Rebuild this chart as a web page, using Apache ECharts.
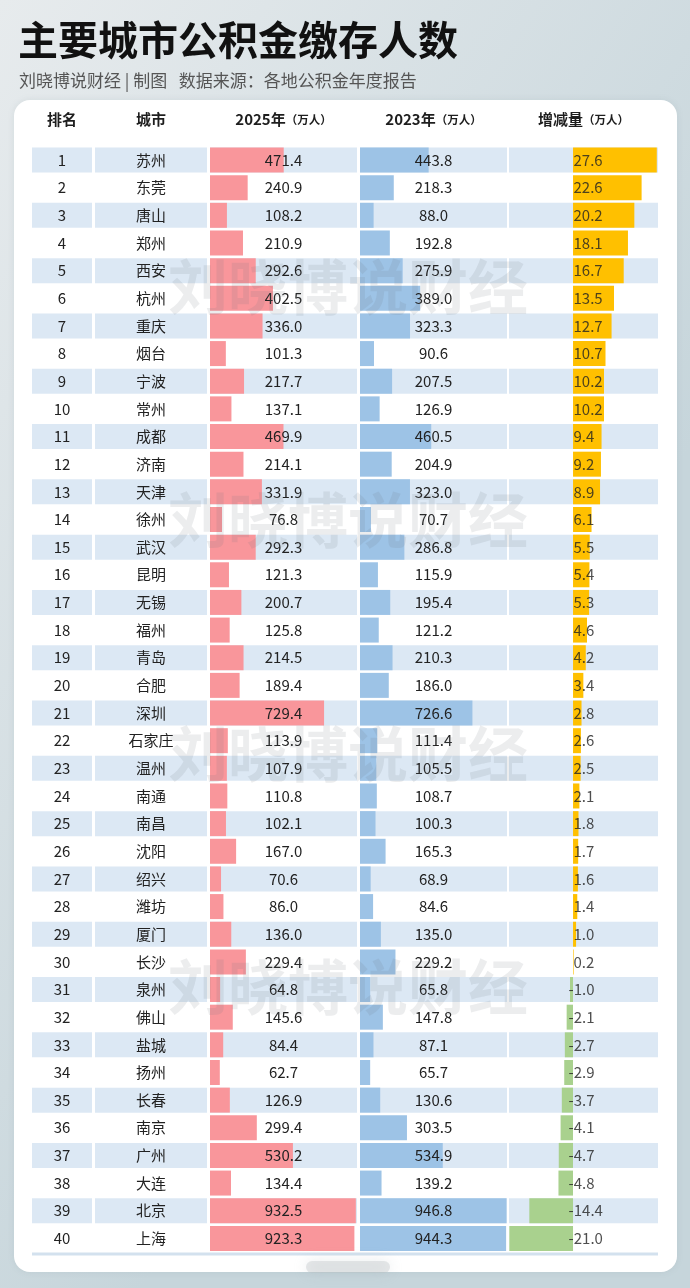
<!DOCTYPE html>
<html><head><meta charset="utf-8">
<script src="https://cdn.jsdelivr.net/npm/echarts@6/dist/echarts.min.js"></script>
<style>html,body{margin:0;padding:0;}#c{width:690px;height:1288px;}</style>
</head><body><div id="c"></div>
<script>
const ranks = [1,2,3,4,5,6,7,8,9,10,11,12,13,14,15,16,17,18,19,20,21,22,23,24,25,26,27,28,29,30,31,32,33,34,35,36,37,38,39,40];
const cities = ['苏州','东莞','唐山','郑州','西安','杭州','重庆','烟台','宁波','常州','成都','济南','天津','徐州','武汉','昆明','无锡','福州','青岛','合肥','深圳','石家庄','温州','南通','南昌','沈阳','绍兴','潍坊','厦门','长沙','泉州','佛山','盐城','扬州','长春','南京','广州','大连','北京','上海'];
const v2025 = [471.4,240.9,108.2,210.9,292.6,402.5,336.0,101.3,217.7,137.1,469.9,214.1,331.9,76.8,292.3,121.3,200.7,125.8,214.5,189.4,729.4,113.9,107.9,110.8,102.1,167.0,70.6,86.0,136.0,229.4,64.8,145.6,84.4,62.7,126.9,299.4,530.2,134.4,932.5,923.3];
const v2023 = [443.8,218.3,88.0,192.8,275.9,389.0,323.3,90.6,207.5,126.9,460.5,204.9,323.0,70.7,286.8,115.9,195.4,121.2,210.3,186.0,726.6,111.4,105.5,108.7,100.3,165.3,68.9,84.6,135.0,229.2,65.8,147.8,87.1,65.7,130.6,303.5,534.9,139.2,946.8,944.3];
const change = [27.6,22.6,20.2,18.1,16.7,13.5,12.7,10.7,10.2,10.2,9.4,9.2,8.9,6.1,5.5,5.4,5.3,4.6,4.2,3.4,2.8,2.6,2.5,2.1,1.8,1.7,1.6,1.4,1.0,0.2,-1.0,-2.1,-2.7,-2.9,-3.7,-4.1,-4.7,-4.8,-14.4,-21.0];
const headers = ['排名','城市','2025年','2023年','增减量'];
const unitLabel = '（万人）';
const titleText = '主要城市公积金缴存人数';
const subText = '刘晓博说财经 | 制图   数据来源：各地公积金年度报告';
const watermarkText = '刘晓博说财经';

const FONT = '"Noto Sans CJK SC", "Noto Sans", sans-serif';
const ROW_BG = '#dce8f4';
const GRID_TOP = 146.2, GRID_H = 1106, BW = 25;
const cols = [
  {left:32,width:60,min:0,max:1},
  {left:95,width:112,min:0,max:1},
  {left:210,width:147,min:0,max:940},
  {left:360,width:147,min:0,max:950},
  {left:509,width:149,min:-21.1,max:28}
];
const grids = cols.map(c=>({left:c.left,width:c.width,top:GRID_TOP,height:GRID_H}));
const xAxes = cols.map((c,k)=>({
  type:'value',gridIndex:k,min:c.min,max:c.max,position:'top',
  axisLine:{show:false},axisTick:{show:false},axisLabel:{show:false},splitLine:{show:false},
  name: k<2 ? '{b|'+headers[k]+'}' : '{b|'+headers[k]+'}{u|'+unitLabel+'}',
  nameLocation:'middle', nameGap:19,
  nameTextStyle:{rich:{
    b:{fontSize:15,fontWeight:'bold',color:'#1e1e1e',fontFamily:FONT},
    u:{fontSize:11.5,fontWeight:'bold',color:'#1e1e1e',fontFamily:FONT}}}
}));
const yAxes = cols.map((c,k)=>({type:'category',gridIndex:k,data:cities,inverse:true,show:false}));

function bgSeries(k,val){
  return {type:'bar',xAxisIndex:k,yAxisIndex:k,data:cities.map((_,i)=>i%2===0?val:'-'),
    barWidth:BW,barGap:'-100%',itemStyle:{color:ROW_BG},silent:true,z:1};
}
function labelSeries(k,val,texts){
  return {type:'bar',xAxisIndex:k,yAxisIndex:k,data:cities.map(()=>val),barWidth:BW,barGap:'-100%',
    itemStyle:{color:'rgba(0,0,0,0)'},silent:true,z:6,
    label:{show:true,position:'inside',formatter:p=>texts[p.dataIndex],fontSize:15,color:'#222',fontFamily:FONT}};
}
const series = [
  bgSeries(0,1), labelSeries(0,1,ranks.map(String)),
  bgSeries(1,1), labelSeries(1,1,cities),
  bgSeries(2,940),
  {type:'bar',xAxisIndex:2,yAxisIndex:2,data:v2025,barWidth:BW,barGap:'-100%',itemStyle:{color:'#f9969b'},z:3},
  labelSeries(2,940,v2025.map(v=>v.toFixed(1))),
  bgSeries(3,950),
  {type:'bar',xAxisIndex:3,yAxisIndex:3,data:v2023,barWidth:BW,barGap:'-100%',itemStyle:{color:'#9dc3e6'},z:3},
  labelSeries(3,950,v2023.map(v=>v.toFixed(1))),
  bgSeries(4,-21.1), bgSeries(4,28),
  {type:'bar',xAxisIndex:4,yAxisIndex:4,barWidth:BW,barGap:'-100%',z:3,
    data:change.map(v=>({value:v,itemStyle:{color:v>=0?'#ffc000':'#a9d18e'}}))},
  {type:'scatter',xAxisIndex:4,yAxisIndex:4,symbolSize:1,itemStyle:{color:'rgba(0,0,0,0)'},z:6,silent:true,
    data:change.map((v,i)=>({value:[0,i],label:{offset:[v<0?-5:0,0]}})),
    label:{show:true,position:'right',distance:0,formatter:p=>change[p.dataIndex].toFixed(1),fontSize:15,color:'#222',fontFamily:FONT}}
];

const wmY = [287,520,754,987];
const graphic = [
  {type:'rect',shape:{x:14,y:100,width:663,height:1172,r:16},style:{fill:'#ffffff',shadowBlur:6,shadowColor:'rgba(120,140,150,0.15)'},z:0},
  {type:'line',shape:{x1:32,y1:1254,x2:658,y2:1254},style:{stroke:'#d3e1ee',lineWidth:3},z:3},
  {type:'rect',shape:{x:306,y:1261,width:84,height:12,r:6},style:{fill:'rgba(185,192,196,0.35)',shadowBlur:14,shadowColor:'rgba(165,175,180,0.7)'},z:4}
].concat(wmY.map(y=>({type:'text',x:348,y:y,z:20,silent:true,
  style:{text:watermarkText,fontSize:60,fontWeight:'bold',fontFamily:FONT,fill:'rgba(110,115,120,0.13)',align:'center',verticalAlign:'middle'}})));

const chart = echarts.init(document.getElementById('c'));
chart.setOption({
  animation:false,
  backgroundColor:{type:'linear',x:0,y:0,x2:1,y2:0.35,colorStops:[{offset:0,color:'#e7ebed'},{offset:1,color:'#c6d5db'}]},
  title:[
    {text:titleText,left:13,top:15,textStyle:{fontSize:40,fontWeight:'bold',color:'#111',fontFamily:FONT}},
    {text:subText,left:14,top:67,textStyle:{fontSize:17,fontWeight:'normal',color:'#555',fontFamily:FONT}}
  ],
  grid:grids, xAxis:xAxes, yAxis:yAxes, series:series, graphic:graphic
});
</script></body></html>
